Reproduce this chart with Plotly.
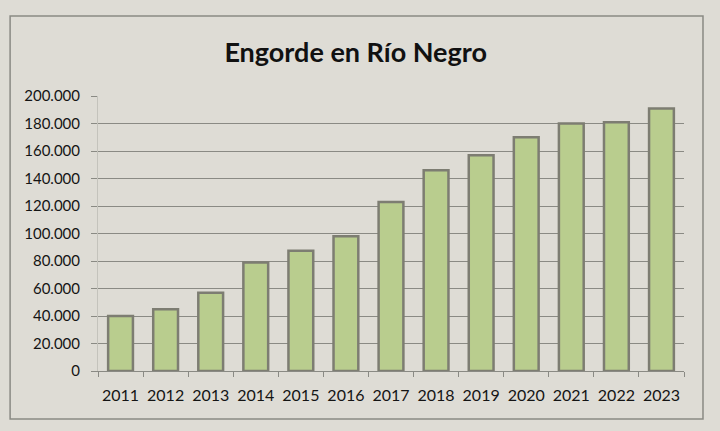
import plotly.graph_objects as go

# datos
years = ["2011", "2012", "2013", "2014", "2015", "2016", "2017",
         "2018", "2019", "2020", "2021", "2022", "2023"]
engorde = [40000, 45000, 57000, 79000, 87500, 98000, 123000,
           146000, 157000, 170000, 180000, 181000, 191000]
y_ticks = [0, 20000, 40000, 60000, 80000, 100000, 120000,
           140000, 160000, 180000, 200000]

BG = "#dedcd5"
BAR = "#b9cd8e"
EDGE = "#7d7d72"
GRID = "#8a8a84"

fig = go.Figure(
    go.Bar(
        x=years,
        y=engorde,
        marker=dict(color=BAR, line=dict(color=EDGE, width=2.5)),
        showlegend=False,
        hoverinfo="x+y",
    )
)

fig.update_layout(
    width=720,
    height=431,
    paper_bgcolor=BG,
    plot_bgcolor=BG,
    separators=",.",
    bargap=0.45,
    margin=dict(l=98, r=36, t=96, b=60),
    font=dict(family="Lato, 'Open Sans', sans-serif", color="#141414", size=15),
    title=dict(
        text="<b>Engorde en Río Negro</b>",
        x=0.494,
        xanchor="center",
        y=0.877,
        yanchor="middle",
        font=dict(family="Lato, 'Open Sans', sans-serif", size=27, color="#111111"),
    ),
)

fig.update_xaxes(
    type="category",
    showline=True,
    linecolor=GRID,
    linewidth=1,
    ticks="outside",
    tickson="boundaries",
    ticklen=5,
    tickcolor=GRID,
    showgrid=False,
    tickangle=0,
    ticklabelstandoff=10,
    tickfont=dict(size=16),
)
fig.update_yaxes(
    range=[0, 200000],
    tickvals=y_ticks,
    tickformat=",d",
    showgrid=True,
    gridcolor=GRID,
    gridwidth=1,
    zeroline=False,
    showline=True,
    linecolor="#c4c3bc",
    ticks="outside",
    ticklen=6,
    tickcolor=GRID,
    ticklabelstandoff=8,
    tickfont=dict(size=15),
)

# marco exterior del gráfico
fig.add_shape(
    type="rect",
    xref="paper", yref="paper",
    x0=-0.150, x1=1.0324, y0=-0.1745, y1=1.291,
    line=dict(color="#8a8a84", width=1.5),
    fillcolor="rgba(0,0,0,0)",
    layer="below",
)

fig.write_html(
    "out.html",
    config={"displayModeBar": False},
    post_script="document.body.style.margin='0';",
)
